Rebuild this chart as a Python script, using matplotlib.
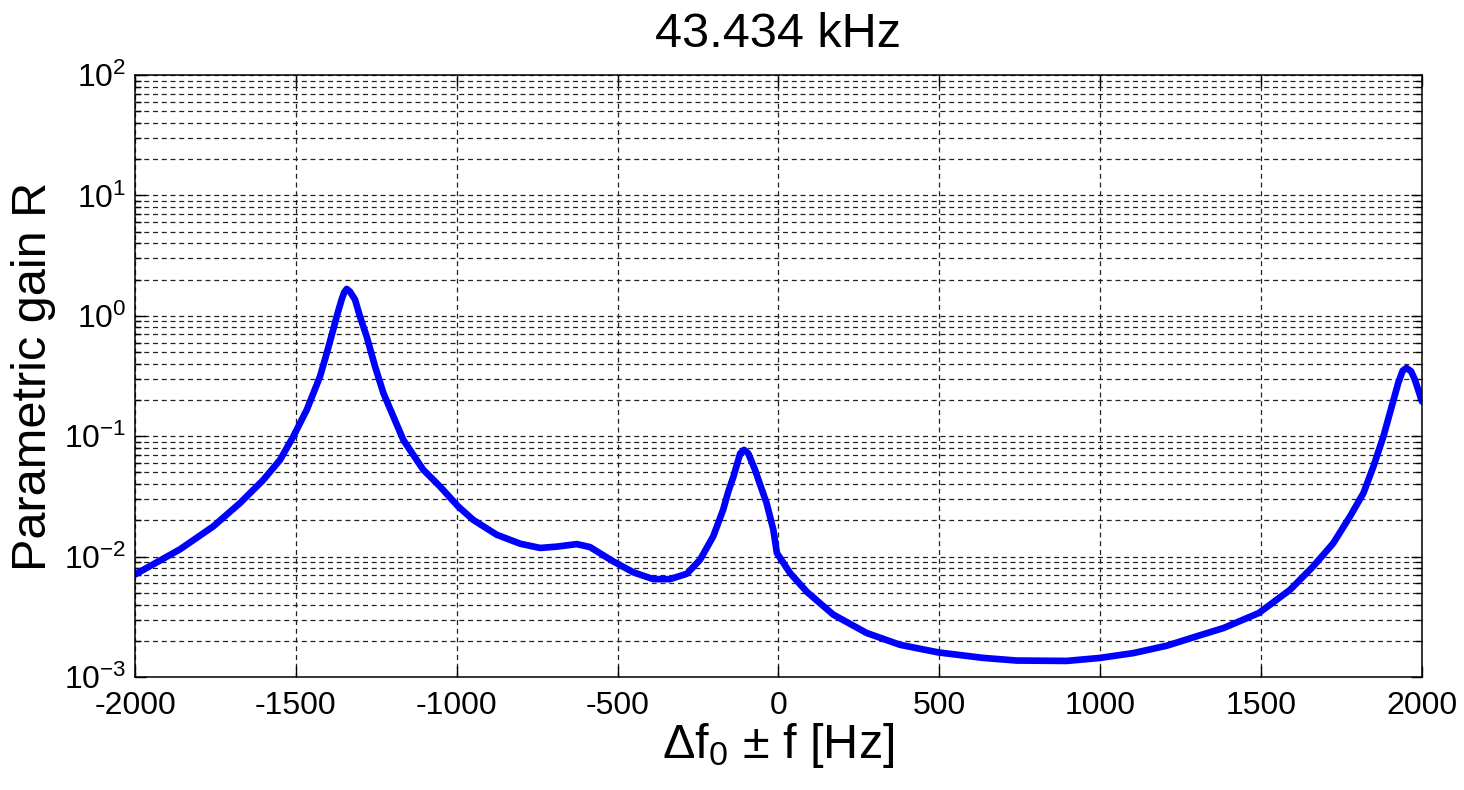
import matplotlib
matplotlib.use("Agg")
import matplotlib.pyplot as plt
from matplotlib.ticker import LogLocator, MultipleLocator, NullFormatter

# ---------------------------------------------------------------------------
# Data
# ---------------------------------------------------------------------------
freq_hz = [
    -2000, -1860, -1757, -1674, -1601, -1549, -1508, -1466, -1425, -1404,
    -1384, -1373, -1358, -1350, -1342, -1332, -1316, -1301, -1280, -1254,
    -1228, -1166, -1104, -1052, -995, -949, -876, -803, -741, -689,
    -627, -586, -513, -451, -389, -337, -285, -244, -203, -172,
    -156, -140, -119, -107, -94, -73, -57, -37, -16, -5,
    36, 88, 170, 274, 378, 497, 637, 740, 896, 999,
    1103, 1207, 1305, 1383, 1493, 1590, 1662, 1724, 1776, 1818,
    1849, 1880, 1906, 1926, 1940, 1952, 1966, 1978, 2000,
]
gain_r = [
    0.0071, 0.0115, 0.0178, 0.0278, 0.0434, 0.0637, 0.0995, 0.166, 0.313, 0.49,
    0.766, 0.99, 1.36, 1.56, 1.67, 1.59, 1.36, 0.99, 0.673, 0.38,
    0.228, 0.093, 0.0526, 0.0382, 0.026, 0.0202, 0.0152, 0.0128, 0.0118, 0.0121,
    0.0127, 0.0120, 0.0091, 0.0074, 0.0065, 0.0065, 0.0072, 0.0094, 0.0147, 0.0245,
    0.0347, 0.0462, 0.072, 0.077, 0.072, 0.0526, 0.0395, 0.0278, 0.0167, 0.0107,
    0.0073, 0.0051, 0.0033, 0.00232, 0.00185, 0.0016, 0.00144, 0.00137, 0.00136, 0.00144,
    0.00158, 0.00182, 0.0022, 0.00255, 0.0034, 0.0053, 0.0083, 0.0129, 0.0215, 0.0337,
    0.056, 0.0995, 0.177, 0.276, 0.35, 0.368, 0.346, 0.294, 0.194,
]

TITLE = "43.434 kHz"
XLABEL = r"$\Delta$f$_0$ $\pm$ f [Hz]"
YLABEL = "Parametric gain R"

# ---------------------------------------------------------------------------
# Style
# ---------------------------------------------------------------------------
plt.rcParams["font.family"] = ["Liberation Sans", "DejaVu Sans"]
plt.rcParams["mathtext.fontset"] = "custom"
plt.rcParams["mathtext.rm"] = "Liberation Sans"
plt.rcParams["mathtext.it"] = "Liberation Sans:italic"
plt.rcParams["mathtext.bf"] = "Liberation Sans:bold"
plt.rcParams["mathtext.default"] = "regular"
plt.rcParams["axes.unicode_minus"] = False

fig = plt.figure(figsize=(14.64, 7.90), dpi=100)
ax = fig.add_axes([135 / 1464, 1 - 677 / 790, (1422 - 135) / 1464, (677 - 75) / 790])

ax.plot(freq_hz, gain_r, color="#0000ff", linewidth=4.8,
        solid_joinstyle="round", solid_capstyle="round")

ax.set_yscale("log")
ax.set_xlim(-2000, 2000)
ax.set_ylim(1e-3, 1e2)

ax.xaxis.set_major_locator(MultipleLocator(500))
ax.yaxis.set_major_locator(LogLocator(base=10, numticks=10))
ax.yaxis.set_minor_locator(LogLocator(base=10, subs=range(2, 10), numticks=20))
ax.yaxis.set_minor_formatter(NullFormatter())

grid_kw = dict(color="#222222", linestyle=(0, (4, 3)), linewidth=0.9)
ax.grid(True, axis="x", which="major", **grid_kw)
ax.grid(True, axis="y", which="both", **grid_kw)
ax.set_axisbelow(True)

ax.tick_params(axis="both", which="major", direction="in", length=8, width=1,
               top=True, right=True, labelsize=23, pad=10)
ax.tick_params(axis="y", which="minor", direction="in", length=4, width=1,
               left=True, right=True)
ax.tick_params(axis="y", which="major", pad=6)
for sp in ax.spines.values():
    sp.set_linewidth(1.1)
    sp.set_color("black")

ax.set_title(TITLE, fontsize=35, pad=20)
ax.set_xlabel(XLABEL, fontsize=35, labelpad=0)
ax.set_ylabel(YLABEL, fontsize=35, labelpad=6)

fig.savefig("out.png", dpi=100)
plt.close(fig)
